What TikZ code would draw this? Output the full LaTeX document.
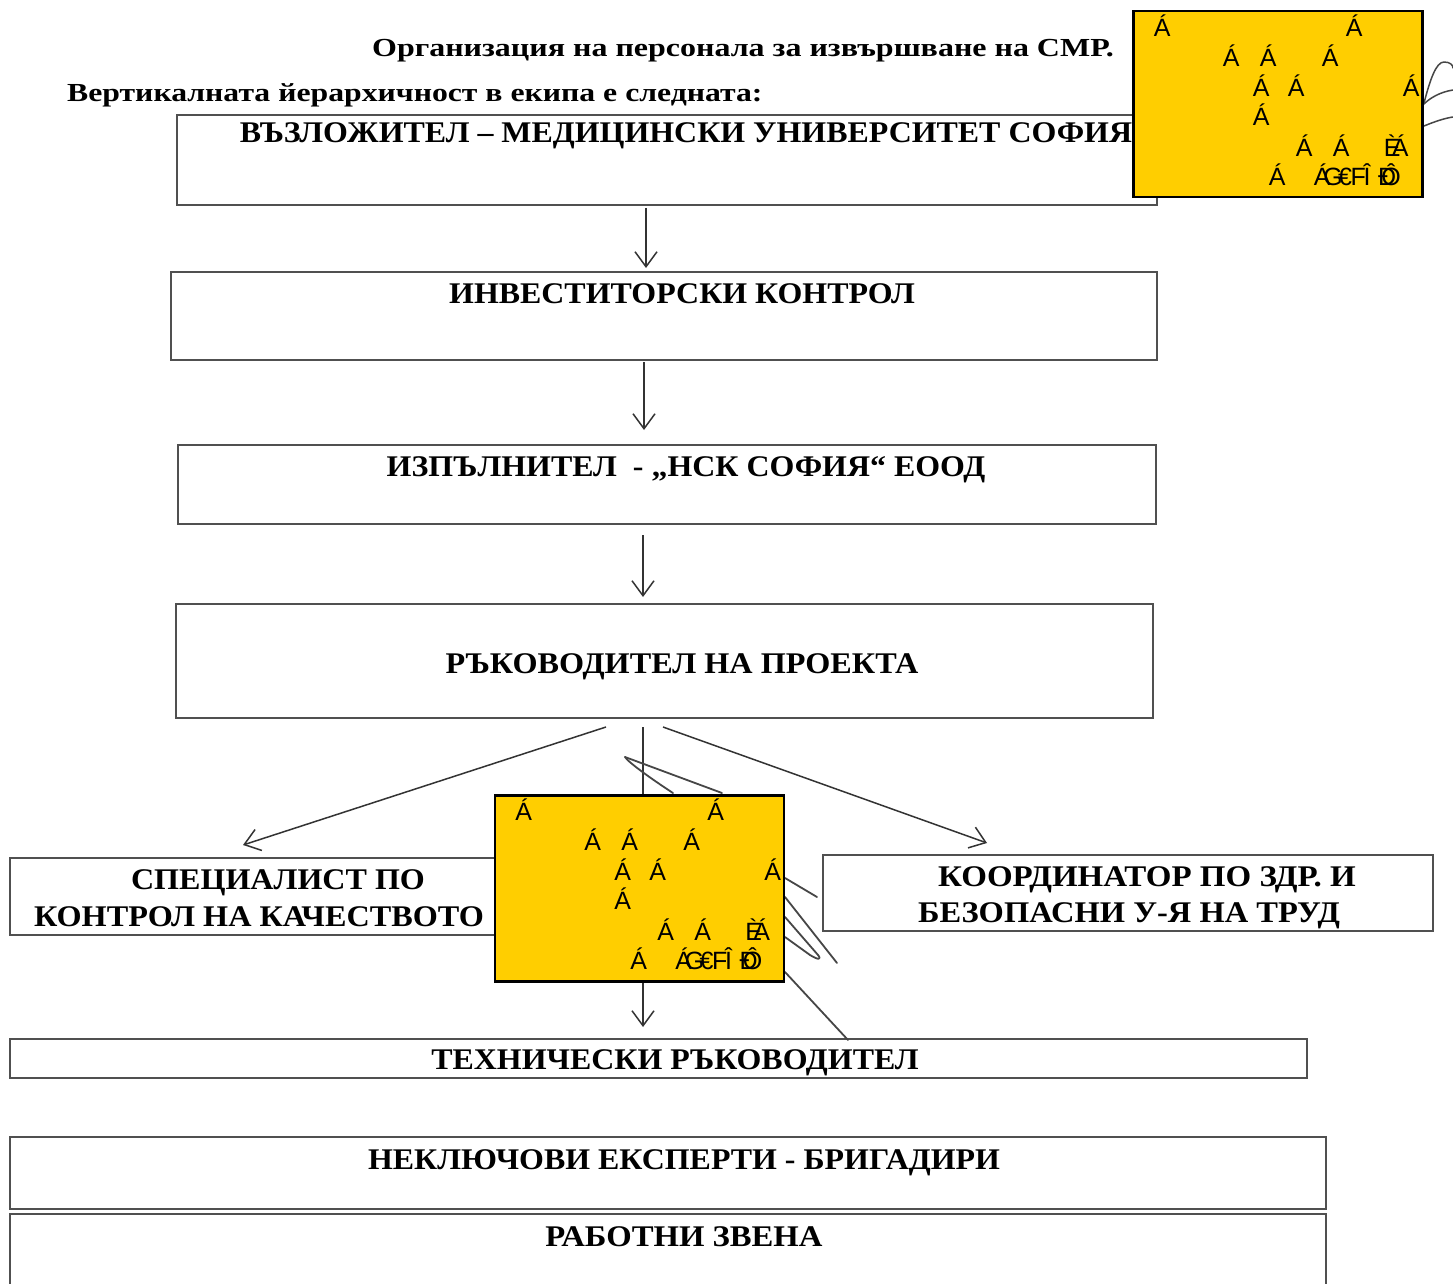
\documentclass[tikz,border=0pt]{standalone}
\usepackage{fontspec}
\usepackage{graphicx}
\setmainfont{Liberation Serif}
\newfontfamily\glyphfont{Liberation Sans}
\usetikzlibrary{arrows.meta,calc}
\definecolor{redact}{RGB}{255,206,0}
\definecolor{boxline}{RGB}{80,80,80}
\definecolor{pen}{RGB}{70,70,70}
\newcommand\titlefont{\bfseries\fontsize{26}{28}\selectfont}
\newcommand\boxfont{\bfseries\fontsize{30}{32}\selectfont}
\newcommand\gfont{\glyphfont\fontsize{25}{28}\selectfont}
\newcommand\sx[2]{\scalebox{#1}[1]{#2}}
\tikzset{
  orgbox/.style={draw=boxline, line width=1.4pt, anchor=north west, inner sep=0pt, outer sep=0pt},
  btxt/.style={font=\boxfont, anchor=base, inner sep=0pt},
  ttxt/.style={font=\titlefont, inner sep=0pt},
  conn/.style={draw=black!80, line width=1.5pt, -{Straight Barb[length=15pt,width=22pt,line width=1.5pt]}},
  ybox/.style={draw=black, fill=redact, line width=2.7pt, minimum width=289pt, minimum height=186pt, inner sep=0pt},
  gl/.style={font=\gfont, anchor=base, inner sep=0pt},
  scribble/.style={draw=pen, line width=1.8pt, line cap=round, line join=round}
}
\begin{document}
\begin{tikzpicture}[x=1pt,y=-1pt]
\useasboundingbox (0,0) rectangle (1453,1284);
\fill[white] (0,0) rectangle (1453,1284);

% headings
\node[ttxt, anchor=base] (title) at (743,57) {\sx{1.23}{Организация на персонала за извършване на СМР.}};
\node[ttxt, anchor=base west] (sub) at (67,102) {\sx{1.22}{Вертикалната йерархичност в екипа е следната:}};

% boxes
\node[orgbox, minimum width=980pt, minimum height=90pt] (b1) at (177,115) {};
\node[orgbox, minimum width=986pt, minimum height=88pt] (b2) at (171,272) {};
\node[orgbox, minimum width=978pt, minimum height=79pt] (b3) at (178,445) {};
\node[orgbox, minimum width=977pt, minimum height=114pt] (b4) at (176,604) {};
\node[orgbox, minimum width=495pt, minimum height=77pt] (b5) at (10,858) {};
\node[orgbox, minimum width=610pt, minimum height=76pt] (b6) at (823,855) {};
\node[orgbox, minimum width=1297pt, minimum height=39pt] (b7) at (10,1039) {};
\node[orgbox, minimum width=1316pt, minimum height=72pt] (b8) at (10,1137) {};
\node[orgbox, minimum width=1316pt, minimum height=90pt] (b9) at (10,1214) {};

% box texts
\node[btxt] (t1) at (686,143) {\sx{1.064}{ВЪЗЛОЖИТЕЛ – МЕДИЦИНСКИ УНИВЕРСИТЕТ СОФИЯ}};
\node[btxt] (t2) at (682,303) {\sx{1.064}{ИНВЕСТИТОРСКИ КОНТРОЛ}};
\node[btxt] (t3) at (686,476) {\sx{1.064}{ИЗПЪЛНИТЕЛ\ \ - „НСК СОФИЯ“ ЕООД}};
\node[btxt] (t4) at (682,673) {\sx{1.074}{РЪКОВОДИТЕЛ НА ПРОЕКТА}};
\node[btxt] (t5a) at (278,889) {\sx{1.069}{СПЕЦИАЛИСТ ПО}};
\node[btxt] (t5b) at (259,926) {\sx{1.074}{КОНТРОЛ НА КАЧЕСТВОТО}};
\node[btxt] (t6a) at (1147,886) {\sx{1.10}{КООРДИНАТОР ПО ЗДР. И}};
\node[btxt] (t6b) at (1129,922) {\sx{1.083}{БЕЗОПАСНИ У-Я НА ТРУД}};
\node[btxt] (t7) at (675,1069) {\sx{1.064}{ТЕХНИЧЕСКИ РЪКОВОДИТЕЛ}};
\node[btxt] (t8) at (684,1169) {\sx{1.064}{НЕКЛЮЧОВИ ЕКСПЕРТИ - БРИГАДИРИ}};
\node[btxt] (t9) at (684,1246) {\sx{1.09}{РАБОТНИ ЗВЕНА}};

% connector columns
\coordinate (c1) at (646,0);
\coordinate (c2) at (644,0);
\coordinate (c3) at (643,0);
\coordinate (sl) at (606,0);
\coordinate (el) at (243,0);
\coordinate (sr) at (663,0);
\coordinate (er) at (987,0);

\draw[conn, shorten <=3pt, shorten >=4pt] (b1.south -| c1) -- (b2.north -| c1);
\draw[conn, shorten <=2pt, shorten >=15pt] (b2.south -| c2) -- (b3.north -| c2);
\draw[conn, shorten <=11pt, shorten >=7pt] (b3.south -| c3) -- (b4.north -| c3);
\draw[conn] ($(b4.south -| sl)+(0,9)$) -- ($(b5.north -| el)+(0,-13)$);
\draw[conn] ($(b4.south -| sr)+(0,9)$) -- ($(b6.north -| er)+(0,-12)$);
\draw[conn, shorten <=9pt, shorten >=12pt] (b4.south -| c3) -- (b7.north -| c3);

% signature scribbles
\draw[scribble] (625,757) -- (722,793);
\draw[scribble] (625,757) .. controls (628,762) and (650,778) .. (673,793);
\draw[scribble] (785,878) -- (817,897);
\draw[scribble] (785,897) -- (837,963);
\draw[scribble] (785,917) -- (818,955) .. controls (822,960) and (818,960) .. (810,955) -- (785,937);
\draw[scribble] (785,972) -- (848,1040);
\draw[scribble, line width=1.5pt] (1424,103) .. controls (1430,80) and (1436,62) .. (1444,62) .. controls (1450,62) and (1453,65) .. (1453,68);
\draw[scribble, line width=1.5pt] (1453,90) .. controls (1440,92) and (1430,98) .. (1424,104);
\draw[scribble, line width=1.5pt] (1424,126) .. controls (1436,121) and (1446,118) .. (1453,117);

% redaction boxes with stray glyphs
\foreach \nm/\cx/\cy in {y1/1278/104, y2/639.5/888.3}{
  \node[ybox] (\nm) at (\cx,\cy) {};
  \foreach \gx/\gy/\gc in {30/27/Á, 222/27/Á, 99/57/Á, 136/57/Á, 198/57/Á, 129/87/Á, 164/87/Á, 279/87/Á, 129/116/Á, 172/147/Á, 209/147/Á, 260/147/È, 268/147/Á, 145/176/Á, 190/176/Á, 201/176/G, 213/176/€, 226/176/F, 235/176/Î, 255/176/Ð, 259/176/Ô}{
    \node[gl] at ($(\nm.north west)+(\gx,\gy)$) {\gc};
  }
}
\end{tikzpicture}
\end{document}
